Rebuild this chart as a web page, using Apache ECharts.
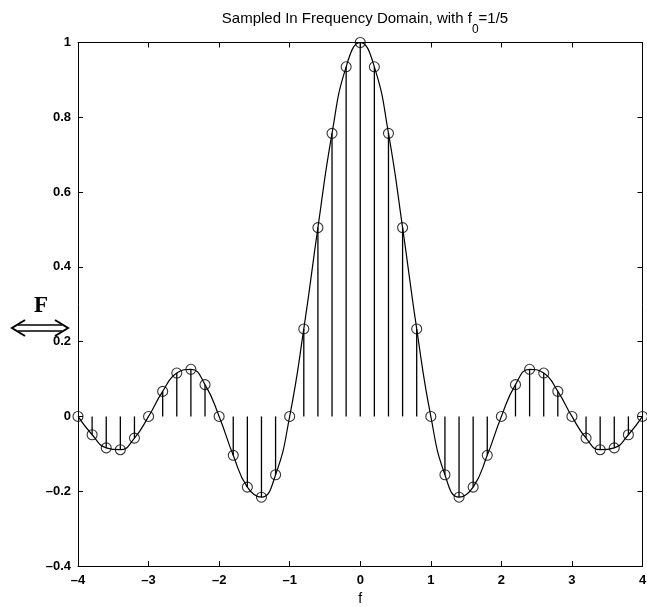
<!DOCTYPE html>
<html>
<head>
<meta charset="utf-8">
<script src="https://cdn.jsdelivr.net/npm/echarts@6/dist/echarts.min.js"></script>
<style>
  html, body { margin: 0; padding: 0; background: #fff; }
  #chart { width: 647px; height: 607px; }
</style>
</head>
<body>
<div id="chart"></div>
<script>
// Sample frequencies, spaced by f0 = 1/5
const freqs = [
  -4.0, -3.8, -3.6, -3.4, -3.2, -3.0, -2.8, -2.6, -2.4, -2.2,
  -2.0, -1.8, -1.6, -1.4, -1.2, -1.0, -0.8, -0.6, -0.4, -0.2,
   0.0,
   0.2,  0.4,  0.6,  0.8,  1.0,  1.2,  1.4,  1.6,  1.8,  2.0,
   2.2,  2.4,  2.6,  2.8,  3.0,  3.2,  3.4,  3.6,  3.8,  4.0
];
// Spectrum values at each sample
const values = [
   0.000, -0.049, -0.084, -0.089, -0.058,  0.000,  0.067,  0.116,  0.126,  0.085,
   0.000, -0.104, -0.189, -0.216, -0.156,  0.000,  0.234,  0.505,  0.757,  0.935,
   1.000,
   0.935,  0.757,  0.505,  0.234,  0.000, -0.156, -0.216, -0.189, -0.104,  0.000,
   0.085,  0.126,  0.116,  0.067,  0.000, -0.058, -0.089, -0.084, -0.049,  0.000
];
const xTicks = [-4, -3, -2, -1, 0, 1, 2, 3, 4];
const yTicks = [-0.4, -0.2, 0, 0.2, 0.4, 0.6, 0.8, 1];

// Title pieces: main text, subscript, remainder
const titleHead = 'Sampled In Frequency Domain, with f';
const titleSub = '0';
const titleTail = '=1/5';

const points = freqs.map((f, i) => [f, values[i]]);

const sans = '"Liberation Sans", Arial, sans-serif';
const labelFont = { fontFamily: sans, fontSize: 13, fontWeight: 'bold', color: '#000' };
const fmt = v => {
  const r = Math.round(v * 10) / 10;
  return String(r).replace('-', '\u2013');
};
const lineStyle = { color: '#000', width: 1 };
const tick = { show: true, inside: true, length: 5, lineStyle: lineStyle };

// Measure title pieces so the subscript can sit below the baseline
const mctx = document.createElement('canvas').getContext('2d');
const mainFont = '15px ' + sans;
const subFont = '12px ' + sans;
mctx.font = mainFont;
const wHead = mctx.measureText(titleHead).width;
const wTail = mctx.measureText(titleTail).width;
mctx.font = subFont;
const wSub = mctx.measureText(titleSub).width;
const titleCenter = 365;
const titleLeft = titleCenter - (wHead + wSub + wTail) / 2;

const chart = echarts.init(document.getElementById('chart'), null, { renderer: 'canvas' });
chart.setOption({
  backgroundColor: '#fff',
  animation: false,
  grid: { left: 78, right: 4.5, top: 42.5, bottom: 41, containLabel: false, outerBoundsMode: 'none' },
  xAxis: [
    {
      type: 'value', min: xTicks[0], max: xTicks[xTicks.length - 1], interval: 1,
      position: 'bottom',
      axisLine: { show: true, onZero: false, lineStyle: lineStyle },
      axisTick: tick,
      splitLine: { show: false },
      axisLabel: Object.assign({ margin: 8, formatter: fmt }, labelFont),
      name: 'f', nameLocation: 'middle', nameGap: 26,
      nameTextStyle: { fontFamily: sans, fontSize: 14, color: '#000' }
    },
    {
      type: 'value', min: xTicks[0], max: xTicks[xTicks.length - 1], interval: 1,
      position: 'top',
      axisLine: { show: true, onZero: false, lineStyle: lineStyle },
      axisTick: tick,
      splitLine: { show: false },
      axisLabel: { show: false }
    }
  ],
  yAxis: [
    {
      type: 'value', min: yTicks[0], max: yTicks[yTicks.length - 1], interval: 0.2,
      position: 'left',
      axisLine: { show: true, onZero: false, lineStyle: lineStyle },
      axisTick: tick,
      splitLine: { show: false },
      axisLabel: Object.assign({ margin: 7, formatter: fmt }, labelFont)
    },
    {
      type: 'value', min: yTicks[0], max: yTicks[yTicks.length - 1], interval: 0.2,
      position: 'right',
      axisLine: { show: true, onZero: false, lineStyle: lineStyle },
      axisTick: tick,
      splitLine: { show: false },
      axisLabel: { show: false }
    }
  ],
  series: [
    {
      // continuous spectrum
      type: 'line',
      data: points,
      smooth: true,
      showSymbol: false,
      lineStyle: { color: '#000', width: 1.2 },
      z: 2
    },
    {
      // stems from zero to each sample
      type: 'bar',
      data: points,
      barWidth: 1.3,
      itemStyle: { color: '#000' },
      z: 3
    },
    {
      // open circle markers on the samples
      type: 'scatter',
      data: points,
      symbol: 'circle',
      symbolSize: 10,
      itemStyle: { color: 'rgba(0,0,0,0)', borderColor: '#000', borderWidth: 1.1 },
      z: 4
    }
  ],
  graphic: [
    {
      type: 'text', x: titleLeft, y: 18.5,
      style: { text: titleHead, font: mainFont, fill: '#000', align: 'left', verticalAlign: 'middle' }
    },
    {
      type: 'text', x: titleLeft + wHead, y: 29.5,
      style: { text: titleSub, font: subFont, fill: '#000', align: 'left', verticalAlign: 'middle' }
    },
    {
      type: 'text', x: titleLeft + wHead + wSub, y: 18.5,
      style: { text: titleTail, font: mainFont, fill: '#000', align: 'left', verticalAlign: 'middle' }
    },
    {
      type: 'text',
      x: 41, y: 306,
      style: {
        text: 'F',
        font: 'bold 23px "Liberation Serif", "DejaVu Serif", serif',
        fill: '#000',
        align: 'center',
        verticalAlign: 'middle'
      }
    },
    {
      type: 'group',
      children: [
        { type: 'polyline', shape: { points: [[25, 320], [12, 328], [25, 336]] }, style: { stroke: '#000', lineWidth: 2, fill: null } },
        { type: 'polyline', shape: { points: [[55, 320], [68, 328], [55, 336]] }, style: { stroke: '#000', lineWidth: 2, fill: null } },
        { type: 'line', shape: { x1: 18, y1: 325, x2: 62, y2: 325 }, style: { stroke: '#000', lineWidth: 1.6 } },
        { type: 'line', shape: { x1: 18, y1: 331, x2: 62, y2: 331 }, style: { stroke: '#000', lineWidth: 1.6 } }
      ]
    }
  ]
});
</script>
</body>
</html>
